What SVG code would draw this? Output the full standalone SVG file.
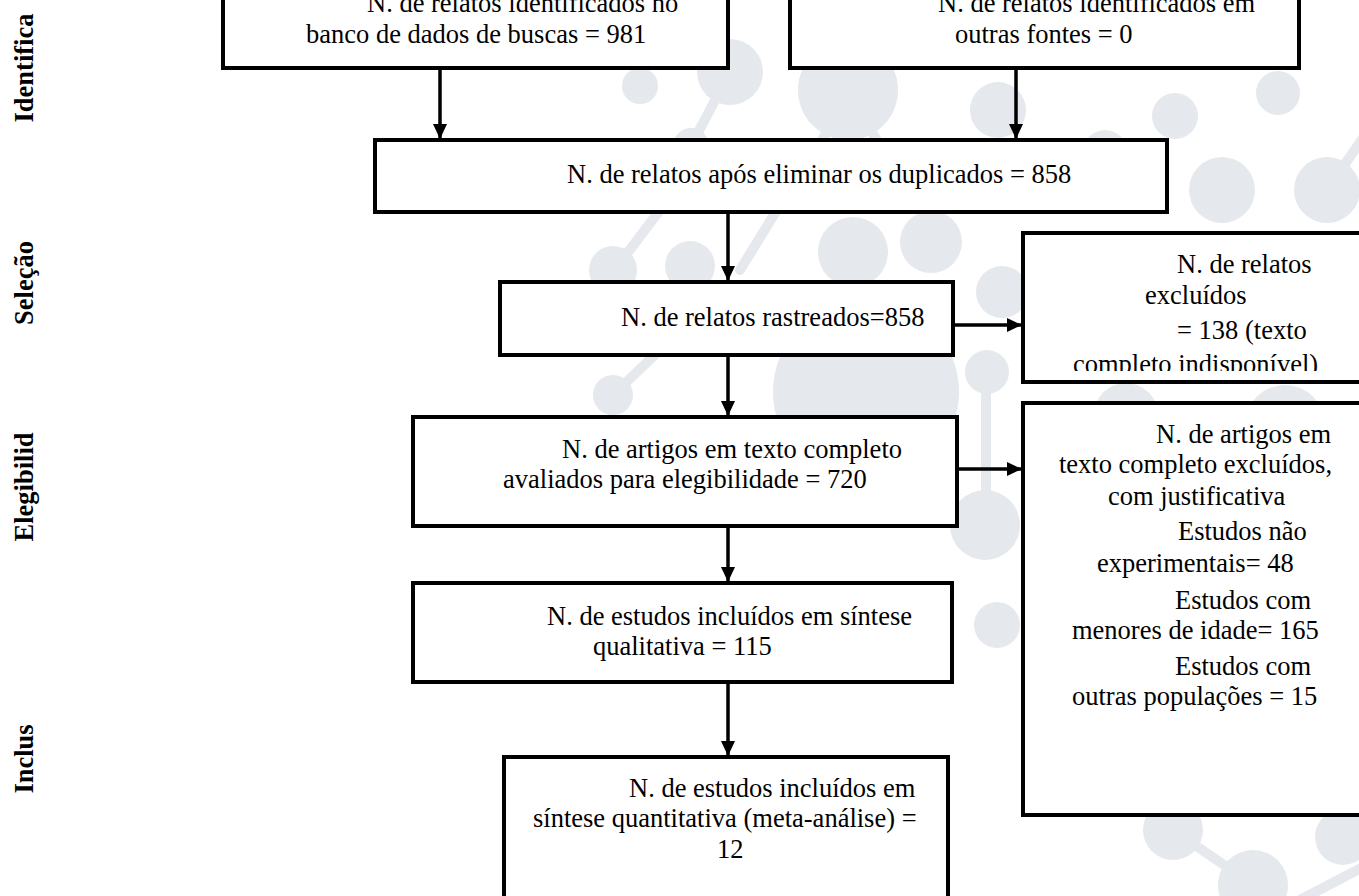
<svg xmlns="http://www.w3.org/2000/svg" width="1359" height="896" viewBox="0 0 1359 896">
  <style>
    .bg { fill: #e5e8ec; }
    .bgl { stroke: #e5e8ec; stroke-width: 10; stroke-linecap: round; fill: none; }
    .box { fill: #ffffff; stroke: #000000; stroke-width: 4; }
    .txt { font-family: "Liberation Serif", "Times New Roman", serif; font-size: 26.5px; fill: #000000; }
    .phase { font-family: "Liberation Serif", "Times New Roman", serif; font-size: 26.5px; font-weight: bold; fill: #000000; }
    .arrow { stroke: #000000; stroke-width: 3.5; fill: none; marker-end: url(#head); }
  </style>
  <defs>
    <marker id="head" viewBox="0 0 15 14" refX="15" refY="7" markerWidth="15" markerHeight="14" markerUnits="userSpaceOnUse" orient="auto">
      <path d="M0,0 L15,7 L0,14 z" fill="#000000"/>
    </marker>
    <clipPath id="clipExc1">
      <rect x="1023" y="233" width="340" height="138"/>
    </clipPath>
  </defs>

  <rect x="0" y="0" width="1359" height="896" fill="#ffffff"/>

  <!-- faint molecular backdrop -->
  <g id="backdrop">
    <line class="bgl" x1="730" y1="72" x2="693" y2="142"/>
    <line class="bgl" x1="848" y1="90" x2="812" y2="160"/>
    <line class="bgl" x1="848" y1="90" x2="888" y2="160"/>
    <line class="bgl" x1="1327" y1="190" x2="1365" y2="135"/>
    <line class="bgl" x1="660" y1="210" x2="613" y2="272"/>
    <line class="bgl" x1="780" y1="205" x2="740" y2="270"/>
    <line class="bgl" x1="665" y1="345" x2="613" y2="395"/>
    <line class="bgl" x1="986" y1="372" x2="986" y2="525"/>
    <line class="bgl" x1="1173" y1="830" x2="1253" y2="885"/>
    <line class="bgl" x1="1300" y1="900" x2="1365" y2="866"/>
    <circle class="bg" cx="640" cy="86" r="18"/>
    <circle class="bg" cx="691" cy="146" r="18"/>
    <circle class="bg" cx="730" cy="72" r="33"/>
    <circle class="bg" cx="848" cy="90" r="50"/>
    <circle class="bg" cx="998" cy="110" r="28"/>
    <circle class="bg" cx="1105" cy="152" r="22"/>
    <circle class="bg" cx="1175" cy="116" r="23"/>
    <circle class="bg" cx="1278" cy="93" r="22"/>
    <circle class="bg" cx="1222" cy="190" r="33"/>
    <circle class="bg" cx="1327" cy="190" r="33"/>
    <circle class="bg" cx="613" cy="270" r="24"/>
    <circle class="bg" cx="690" cy="266" r="25"/>
    <circle class="bg" cx="853" cy="252" r="35"/>
    <circle class="bg" cx="931" cy="242" r="31"/>
    <circle class="bg" cx="1002" cy="292" r="26"/>
    <circle class="bg" cx="520" cy="317" r="22"/>
    <circle class="bg" cx="866" cy="392" r="93"/>
    <circle class="bg" cx="613" cy="395" r="20"/>
    <circle class="bg" cx="987" cy="372" r="22"/>
    <circle class="bg" cx="1126" cy="415" r="32"/>
    <circle class="bg" cx="1285" cy="425" r="40"/>
    <circle class="bg" cx="985" cy="525" r="35"/>
    <circle class="bg" cx="997" cy="625" r="23"/>
    <circle class="bg" cx="1173" cy="830" r="30"/>
    <circle class="bg" cx="1253" cy="885" r="35"/>
    <circle class="bg" cx="1343" cy="837" r="28"/>
  </g>

  <!-- phase labels -->
  <g id="phases">
    <text class="phase" text-anchor="middle" transform="translate(33,68) rotate(-90)">Identifica</text>
    <text class="phase" text-anchor="middle" transform="translate(33,283) rotate(-90)">Seleção</text>
    <text class="phase" text-anchor="middle" transform="translate(33,487) rotate(-90)">Elegibilid</text>
    <text class="phase" text-anchor="middle" transform="translate(33,759) rotate(-90)">Inclus</text>
  </g>

  <!-- connectors -->
  <g id="connectors">
    <line class="arrow" x1="440" y1="68" x2="440" y2="139"/>
    <line class="arrow" x1="1016" y1="68" x2="1016" y2="139"/>
    <line class="arrow" x1="728" y1="212" x2="728" y2="281"/>
    <line class="arrow" x1="953" y1="325" x2="1022" y2="325"/>
    <line class="arrow" x1="728" y1="355" x2="728" y2="416"/>
    <line class="arrow" x1="957" y1="469" x2="1022" y2="469"/>
    <line class="arrow" x1="728" y1="526" x2="728" y2="582"/>
    <line class="arrow" x1="728" y1="682" x2="728" y2="756"/>
  </g>

  <g id="node-database">
    <rect class="box" x="223" y="-20" width="505" height="88"/>
    <text class="txt" x="367" y="12">N. de relatos identificados no</text>
    <text class="txt" x="306" y="43">banco de dados de buscas = 981</text>
  </g>

  <g id="node-other-sources">
    <rect class="box" x="790" y="-20" width="509" height="88"/>
    <text class="txt" x="938" y="12">N. de relatos identificados em</text>
    <text class="txt" x="955" y="43">outras fontes = 0</text>
  </g>

  <g id="node-deduplicated">
    <rect class="box" x="375" y="140" width="792" height="72"/>
    <text class="txt" x="567" y="183">N. de relatos após eliminar os duplicados = 858</text>
  </g>

  <g id="node-screened">
    <rect class="box" x="500" y="282" width="453" height="73"/>
    <text class="txt" x="621" y="326">N. de relatos rastreados=858</text>
  </g>

  <g id="node-excluded-records">
    <rect class="box" x="1023" y="233" width="345" height="149"/>
    <g clip-path="url(#clipExc1)">
      <text class="txt" x="1177" y="273">N. de relatos</text>
      <text class="txt" x="1145" y="304">excluídos</text>
      <text class="txt" x="1177" y="339">= 138 (texto</text>
      <text class="txt" x="1073" y="373">completo indisponível)</text>
    </g>
  </g>

  <g id="node-full-text">
    <rect class="box" x="413" y="417" width="544" height="109"/>
    <text class="txt" x="562" y="458">N. de artigos em texto completo</text>
    <text class="txt" x="503" y="488">avaliados para elegibilidade = 720</text>
  </g>

  <g id="node-excluded-articles">
    <rect class="box" x="1023" y="403" width="345" height="412"/>
    <text class="txt" x="1156" y="443">N. de artigos em</text>
    <text class="txt" x="1059" y="473">texto completo excluídos,</text>
    <text class="txt" x="1108" y="505">com justificativa</text>
    <text class="txt" x="1178" y="540">Estudos não</text>
    <text class="txt" x="1097" y="572">experimentais= 48</text>
    <text class="txt" x="1175" y="609">Estudos com</text>
    <text class="txt" x="1072" y="639">menores de idade= 165</text>
    <text class="txt" x="1175" y="675">Estudos com</text>
    <text class="txt" x="1072" y="705">outras populações = 15</text>
  </g>

  <g id="node-qualitative">
    <rect class="box" x="413" y="583" width="539" height="99"/>
    <text class="txt" x="547" y="625">N. de estudos incluídos em síntese</text>
    <text class="txt" x="593" y="655">qualitativa = 115</text>
  </g>

  <g id="node-quantitative">
    <rect class="box" x="504" y="757" width="444" height="170"/>
    <text class="txt" x="629" y="797">N. de estudos incluídos em</text>
    <text class="txt" x="533" y="827">síntese quantitativa (meta-análise) =</text>
    <text class="txt" x="717" y="858">12</text>
  </g>
</svg>
